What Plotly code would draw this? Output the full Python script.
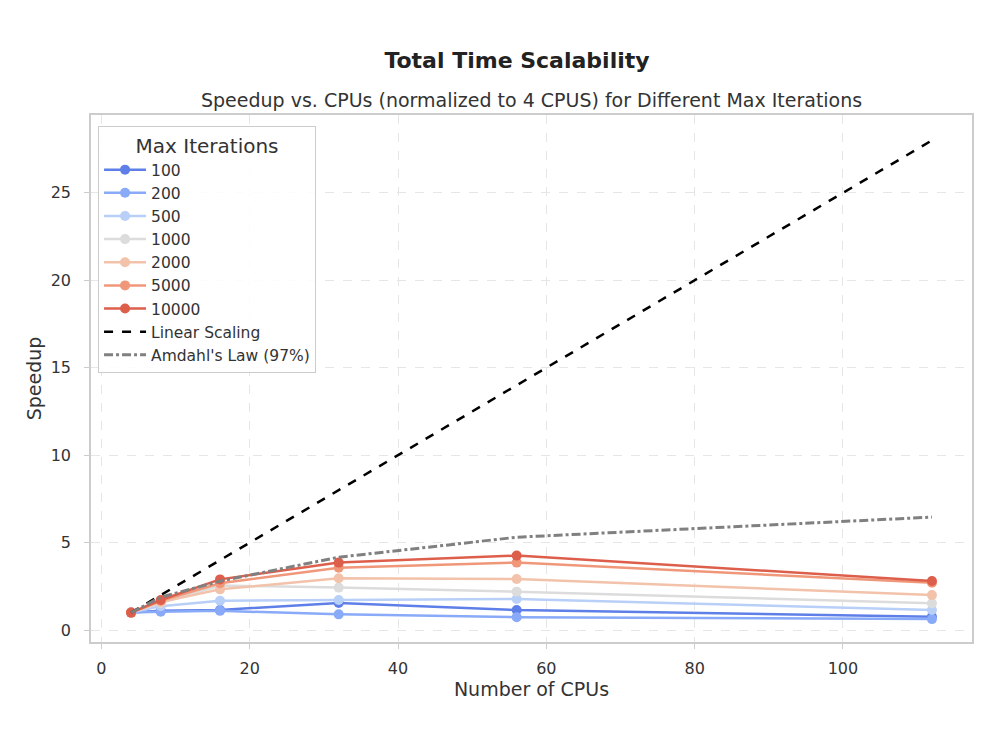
import plotly.graph_objects as go

cpus = [4, 8, 16, 32, 56, 112]
iterations = ["100", "200", "500", "1000", "2000", "5000", "10000"]
speedup_100 = [1.0, 1.10, 1.15, 1.55, 1.15, 0.76]
speedup_200 = [1.0, 1.05, 1.10, 0.90, 0.74, 0.63]
speedup_500 = [1.0, 1.37, 1.68, 1.72, 1.78, 1.15]
speedup_1000 = [1.0, 1.55, 2.55, 2.43, 2.20, 1.53]
speedup_2000 = [1.0, 1.60, 2.33, 2.96, 2.92, 2.00]
speedup_5000 = [1.0, 1.68, 2.68, 3.57, 3.86, 2.71]
speedup_10000 = [1.0, 1.72, 2.90, 3.86, 4.26, 2.81]
linear = [c / 4 for c in cpus]
amdahl = [1.0, 1.88, 2.80, 4.17, 5.31, 6.46]

series = [speedup_100, speedup_200, speedup_500, speedup_1000,
          speedup_2000, speedup_5000, speedup_10000]
colors = ["#5f7fe8", "#88aaf8", "#b8cff8", "#dcdcdc", "#f2c2aa", "#f0977a", "#dd5f4b"]

fig = go.Figure()
for name, ys, col in zip(iterations, series, colors):
    fig.add_trace(go.Scatter(x=cpus, y=ys, mode="lines+markers", name=name,
                             line=dict(color=col, width=2.5),
                             marker=dict(color=col, size=10)))
fig.add_trace(go.Scatter(x=cpus, y=linear, mode="lines", name="Linear Scaling",
                         line=dict(color="black", width=2.5, dash="dash")))
fig.add_trace(go.Scatter(x=cpus, y=amdahl, mode="lines", name="Amdahl's Law (97%)",
                         line=dict(color="#808080", width=3, dash="dashdot")))

font = "DejaVu Sans, sans-serif"
axis_common = dict(showline=True, linecolor="#cccccc", linewidth=1.5, mirror=True,
                   showgrid=True, gridcolor="#e6e6e6", griddash="dash", gridwidth=1,
                   zeroline=False, ticks="outside", ticklen=5, tickcolor="#cccccc",
                   tickfont=dict(size=16, color="#333333"))
fig.update_layout(
    width=1000, height=750,
    paper_bgcolor="white", plot_bgcolor="white",
    font=dict(family=font, color="#333333"),
    margin=dict(l=91, r=28, t=115, b=108),
    title=dict(text="<b>Total Time Scalability</b>", x=0.517, xanchor="center",
               y=0.92, yanchor="middle", font=dict(size=22, color="#222222")),
    annotations=[dict(text="Speedup vs. CPUs (normalized to 4 CPUS) for Different Max Iterations",
                      xref="paper", yref="paper", x=0.5, y=1.0, yshift=2,
                      xanchor="center", yanchor="bottom", showarrow=False,
                      font=dict(size=19, color="#333333"))],
    xaxis=dict(range=[-1.4, 117.4], tickvals=[0, 20, 40, 60, 80, 100],
               title=dict(text="Number of CPUs", font=dict(size=19), standoff=6),
               ticklabelstandoff=6, **axis_common),
    yaxis=dict(range=[-0.68, 29.45], tickvals=[0, 5, 10, 15, 20, 25],
               title=dict(text="Speedup", font=dict(size=19), standoff=4),
               ticklabelstandoff=10, **axis_common),
    legend=dict(x=0.008, y=0.979, xanchor="left", yanchor="top",
                bgcolor="rgba(255,255,255,0.85)", bordercolor="#cccccc", borderwidth=1,
                font=dict(size=15.5, color="#333333"), itemwidth=42,
                title=dict(text="Max Iterations", font=dict(size=20), side="top center")),
    showlegend=True,
)
fig.write_html("out.html")
